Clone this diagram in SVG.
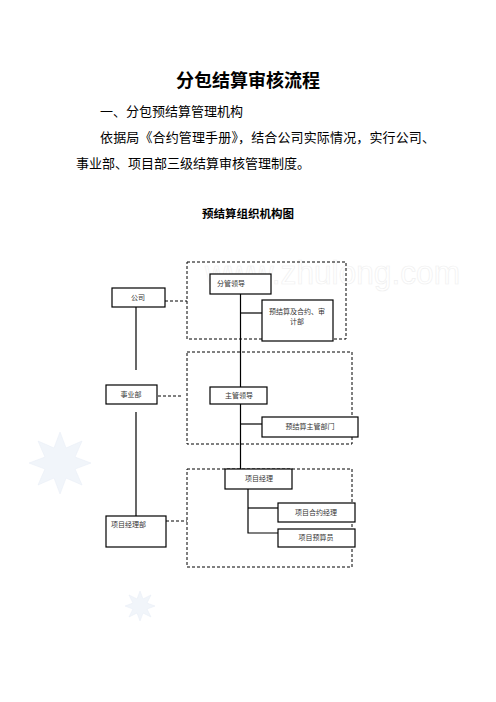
<svg xmlns="http://www.w3.org/2000/svg" width="496" height="702" viewBox="0 0 496 702">
<style>
.t{font-family:"Liberation Serif","Noto Sans CJK SC",serif;fill:#000}
.h{font-family:"Noto Sans CJK SC","Liberation Sans",sans-serif;font-weight:bold;fill:#000}
.n{font-family:"Liberation Serif","Noto Sans CJK SC",serif;font-size:7px;fill:#333}
.box{fill:#fff;stroke:#000;stroke-width:1.2}
.grp{fill:none;stroke:#000;stroke-width:1;stroke-dasharray:3 2}
.ln{stroke:#000;stroke-width:1.2;fill:none}
.dl{stroke:#000;stroke-width:1;stroke-dasharray:3 2;fill:none}
.wm{fill:#f1f5fa;stroke:#e9eff6;stroke-width:0.6}
</style>
<rect width="496" height="702" fill="#fff"/>
<g id="watermark">
<polygon class="wm" points="60,432 66,448 82,441 75,457 91,463 75,469 82,485 66,478 60,494 54,478 38,485 45,469 29,463 45,457 38,441 54,448"/>
<polygon class="wm" points="140,591 143,599 151,595 147,603 155,606 147,609 151,617 143,613 140,621 137,613 129,617 133,609 125,606 133,603 129,595 137,599"/>
<text x="205" y="284" font-family="Liberation Sans Narrow,Liberation Sans,sans-serif" font-size="33" fill="none" stroke="#f0f0f0" stroke-width="0.7" textLength="255" lengthAdjust="spacingAndGlyphs">www.zhulong.com</text>
</g>
<text class="h" x="248" y="87" font-size="18" text-anchor="middle">分包结算审核流程</text>
<text class="t" x="100" y="116" font-size="13">一、分包预结算管理机构</text>
<text class="t" x="100" y="142" font-size="13" textLength="335" lengthAdjust="spacing">依据局《合约管理手册》，结合公司实际情况，实行公司、</text>
<text class="t" x="76" y="168" font-size="13">事业部、项目部三级结算审核管理制度。</text>
<text class="h" x="248" y="218" font-size="11.5" text-anchor="middle">预结算组织机构图</text>
<g id="groups">
<rect class="grp" x="187" y="262" width="159" height="77"/>
<rect class="grp" x="187" y="352" width="165" height="92"/>
<rect class="grp" x="187" y="469" width="165" height="98"/>
</g>
<g id="connectors">
<line class="ln" x1="136" y1="307" x2="136" y2="370"/>
<line class="ln" x1="136" y1="412" x2="136" y2="516"/>
<line class="ln" x1="240.5" y1="294" x2="240.5" y2="387"/>
<line class="ln" x1="240.5" y1="404" x2="240.5" y2="469"/>
<line class="ln" x1="240.5" y1="313" x2="262" y2="313"/>
<line class="ln" x1="240.5" y1="424" x2="262" y2="424"/>
<polyline class="ln" points="248,489 248,533 278,533"/>
<line class="ln" x1="248" y1="508" x2="278" y2="508"/>
<line class="dl" x1="165" y1="301" x2="187" y2="301"/>
<line class="dl" x1="158" y1="396" x2="182" y2="396"/>
<line class="dl" x1="166" y1="521" x2="187" y2="521"/>
</g>
<g id="n-gongsi"><rect class="box" x="112" y="288" width="53" height="19"/><text class="n" x="138" y="300" text-anchor="middle">公司</text></g>
<g id="n-fenguan"><rect class="box" x="210" y="274" width="61" height="20"/><text class="n" x="217" y="286">分管领导</text></g>
<g id="n-yujiesuan"><rect class="box" x="262" y="300" width="71" height="41"/><text class="n" x="297" y="314" text-anchor="middle">预结算及合约、审</text><text class="n" x="297" y="324" text-anchor="middle">计部</text></g>
<g id="n-shiyebu"><rect class="box" x="106" y="385" width="51" height="19"/><text class="n" x="131" y="397" text-anchor="middle">事业部</text></g>
<g id="n-zhuguan"><rect class="box" x="210" y="387" width="57" height="17"/><text class="n" x="239" y="398" text-anchor="middle">主管领导</text></g>
<g id="n-zhuguanbumen"><rect class="box" x="262" y="417" width="96" height="20"/><text class="n" x="310" y="429" text-anchor="middle">预结算主管部门</text></g>
<g id="n-xmjl"><rect class="box" x="225" y="469" width="67" height="20"/><text class="n" x="259" y="481" text-anchor="middle">项目经理</text></g>
<g id="n-hyjl"><rect class="box" x="278" y="503" width="77" height="19"/><text class="n" x="316" y="515" text-anchor="middle">项目合约经理</text></g>
<g id="n-ysy"><rect class="box" x="278" y="529" width="77" height="18"/><text class="n" x="316" y="540" text-anchor="middle">项目预算员</text></g>
<g id="n-xmjlb"><rect class="box" x="106" y="516" width="60" height="31"/><text class="n" x="111" y="527">项目经理部</text></g>
</svg>
